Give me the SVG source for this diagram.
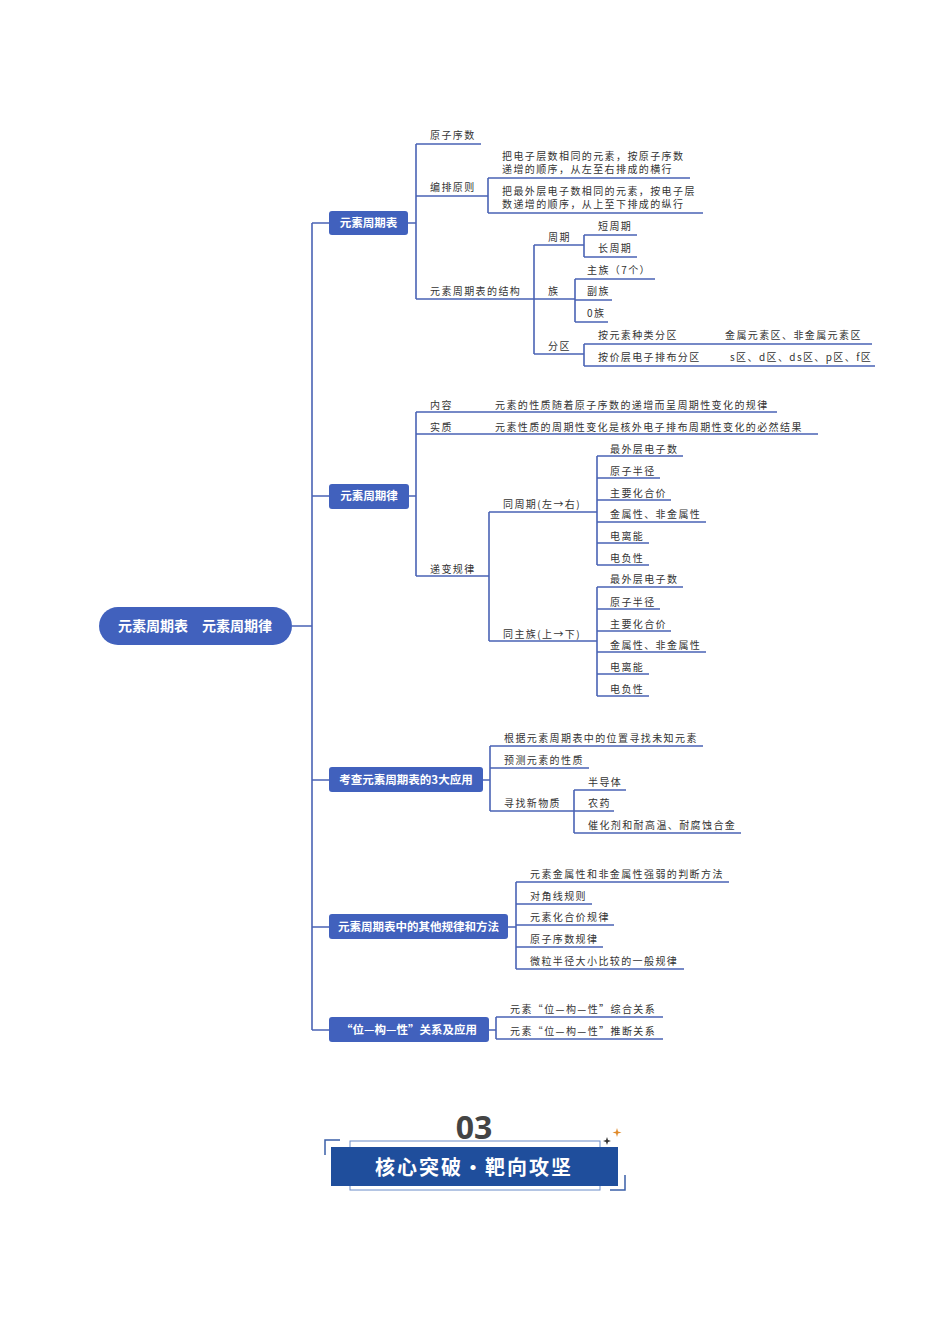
<svg xmlns="http://www.w3.org/2000/svg" width="950" height="1344" viewBox="0 0 950 1344">
<style>
.l{stroke:#4a63b5;stroke-width:1.6;fill:none}
.t{font-family:"Noto Sans CJK SC",sans-serif;font-size:10px;fill:#333;letter-spacing:1.4px}
.b{fill:#4161bd}
.bt{font-family:"Noto Sans CJK SC",sans-serif;font-size:11.5px;font-weight:bold;fill:#fff;text-anchor:middle}
</style>
<rect width="950" height="1344" fill="#fff"/>
<g id="connectors">
<path class="l" d="M292 626H312M312 223V1030M312 223H329M312 496H329M312 780H329M312 927H329M312 1030H329"/>
<path class="l" d="M408 223H416M416 144V299M416 144H481M416 196H488M416 299H534M488 178V213M488 178H690M488 213H703"/>
<path class="l" d="M534 245V354M534 245H575M534 299H575M534 354H584M584 235V257M575 245H584M584 235H637M584 257H637M575 279V322M575 279H655M575 300H612M575 322H608M584 344V366M584 344H872M584 366H875"/>
<path class="l" d="M409 496H416M416 412V576M416 412H777M416 434H818M416 576H489M489 512V641M489 512H597M489 641H597M597 456V565M597 456H683M597 478H660M597 500H671M597 522H706M597 543H649M597 565H649M597 587V696M597 587H683M597 609H660M597 631H671M597 652H706M597 674H649M597 696H649"/>
<path class="l" d="M483 780H490M490 746V811M490 746H703M490 768H589M490 811H574M574 790V833M574 790H626M574 811H614M574 833H741"/>
<path class="l" d="M508 927H516M516 882V969M516 882H729M516 904H592M516 925H614M516 947H603M516 969H684"/>
<path class="l" d="M489 1030H496M496 1017V1039M496 1017H663M496 1039H663"/>
</g>
<g id="root"><rect x="99" y="607" width="193" height="38" rx="19" class="b"/><text x="195" y="631" class="bt" style="font-size:14px">元素周期表　元素周期律</text></g>
<g id="n1"><rect x="329" y="211" width="79" height="24" rx="3" class="b"/><text x="368.5" y="227" class="bt">元素周期表</text></g>
<g id="n2"><rect x="329" y="484" width="80" height="25" rx="3" class="b"/><text x="369" y="500" class="bt">元素周期律</text></g>
<g id="n3"><rect x="329" y="767" width="154" height="25" rx="3" class="b"/><text x="406" y="784" class="bt">考查元素周期表的3大应用</text></g>
<g id="n4"><rect x="329" y="914" width="179" height="25" rx="3" class="b"/><text x="418.5" y="931" class="bt">元素周期表中的其他规律和方法</text></g>
<g id="n5"><rect x="329" y="1017" width="160" height="25" rx="3" class="b"/><text x="409" y="1034" class="bt">“位—构—性”关系及应用</text></g>
<g id="labels">
<text x="430" y="139" class="t">原子序数</text>
<text x="430" y="191" class="t">编排原则</text>
<text x="502" y="160" class="t">把电子层数相同的元素，按原子序数</text>
<text x="502" y="173" class="t">递增的顺序，从左至右排成的横行</text>
<text x="502" y="195" class="t">把最外层电子数相同的元素，按电子层</text>
<text x="502" y="208" class="t">数递增的顺序，从上至下排成的纵行</text>
<text x="430" y="295" class="t">元素周期表的结构</text>
<text x="548" y="241" class="t">周期</text>
<text x="548" y="295" class="t">族</text>
<text x="548" y="350" class="t">分区</text>
<text x="598" y="230" class="t">短周期</text>
<text x="598" y="252" class="t">长周期</text>
<text x="587" y="274" class="t">主族（7个）</text>
<text x="587" y="295" class="t">副族</text>
<text x="587" y="317" class="t">0族</text>
<text x="598" y="339" class="t">按元素种类分区</text>
<text x="725" y="339" class="t">金属元素区、非金属元素区</text>
<text x="598" y="361" class="t">按价层电子排布分区</text>
<text x="730" y="361" class="t">s区、d区、ds区、p区、f区</text>
<text x="430" y="409" class="t">内容</text>
<text x="495" y="409" class="t">元素的性质随着原子序数的递增而呈周期性变化的规律</text>
<text x="430" y="431" class="t">实质</text>
<text x="495" y="431" class="t">元素性质的周期性变化是核外电子排布周期性变化的必然结果</text>
<text x="430" y="573" class="t">递变规律</text>
<text x="503" y="508" class="t">同周期(左→右)</text>
<text x="503" y="638" class="t">同主族(上→下)</text>
<text x="610" y="453" class="t">最外层电子数</text>
<text x="610" y="475" class="t">原子半径</text>
<text x="610" y="497" class="t">主要化合价</text>
<text x="610" y="518" class="t">金属性、非金属性</text>
<text x="610" y="540" class="t">电离能</text>
<text x="610" y="562" class="t">电负性</text>
<text x="610" y="583" class="t">最外层电子数</text>
<text x="610" y="606" class="t">原子半径</text>
<text x="610" y="628" class="t">主要化合价</text>
<text x="610" y="649" class="t">金属性、非金属性</text>
<text x="610" y="671" class="t">电离能</text>
<text x="610" y="693" class="t">电负性</text>
<text x="504" y="742" class="t">根据元素周期表中的位置寻找未知元素</text>
<text x="504" y="764" class="t">预测元素的性质</text>
<text x="504" y="807" class="t">寻找新物质</text>
<text x="588" y="786" class="t">半导体</text>
<text x="588" y="807" class="t">农药</text>
<text x="588" y="829" class="t">催化剂和耐高温、耐腐蚀合金</text>
<text x="530" y="878" class="t">元素金属性和非金属性强弱的判断方法</text>
<text x="530" y="900" class="t">对角线规则</text>
<text x="530" y="921" class="t">元素化合价规律</text>
<text x="530" y="943" class="t">原子序数规律</text>
<text x="530" y="965" class="t">微粒半径大小比较的一般规律</text>
<text x="510" y="1013" class="t">元素“位—构—性”综合关系</text>
<text x="510" y="1035" class="t">元素“位—构—性”推断关系</text>
</g>
<g id="footer">
<text x="474" y="1139" font-family="'Noto Sans',sans-serif" font-size="32" font-weight="bold" fill="#444" text-anchor="middle">03</text>
<rect x="350" y="1141" width="250" height="49" fill="none" stroke="#6b8cc8" stroke-width="1"/>
<rect x="331" y="1147" width="287" height="39" fill="#1f4e9c"/>
<path d="M340 1140H325V1155M610 1190H625V1175" fill="none" stroke="#3a5fa8" stroke-width="1.5"/>
<text x="474" y="1175" font-family="'Noto Sans CJK SC',sans-serif" font-size="20" font-weight="bold" fill="#fff" text-anchor="middle" letter-spacing="2">核心突破・靶向攻坚</text>
<path d="M607 1137l1 3 3 1-3 1-1 3-1-3-3-1 3-1z" fill="#333"/>
<path d="M617 1128l1 3.5 3.5 1-3.5 1-1 3.5-1-3.5-3.5-1 3.5-1z" fill="#e08a2a"/>
</g>
</svg>
